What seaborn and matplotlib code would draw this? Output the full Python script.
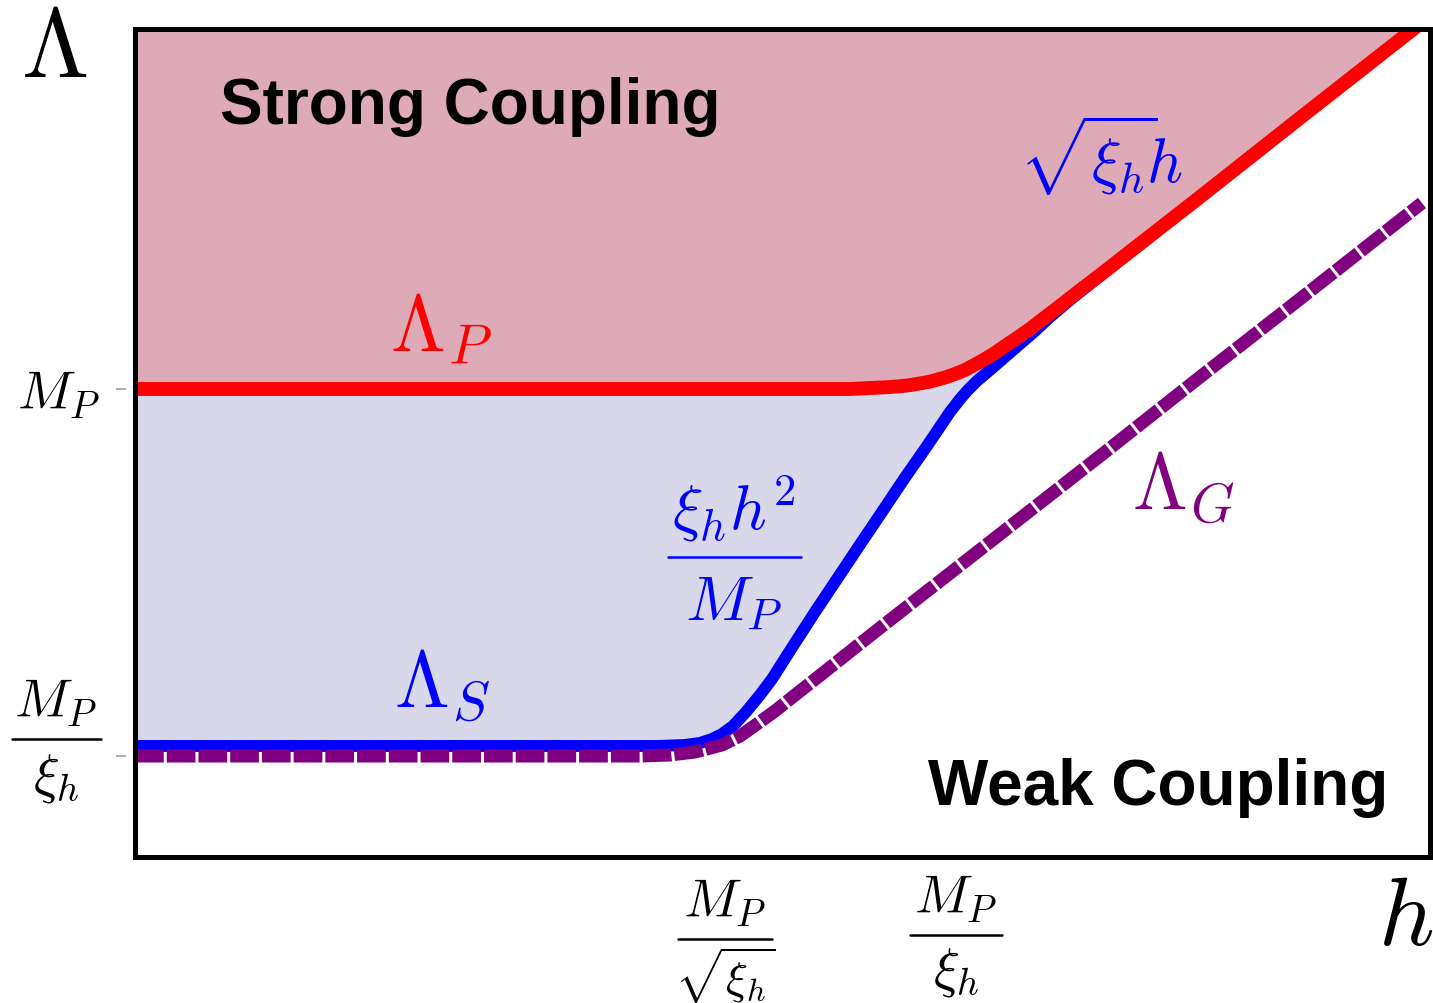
import numpy as np
import pandas as pd
import matplotlib
matplotlib.use("Agg")
import matplotlib.pyplot as plt
import seaborn as sns
from matplotlib.patches import Rectangle
from matplotlib.lines import Line2D

# Schematic cut-off scales; both axes run over 0..10 in arbitrary (log-like) units.
# Planck-suppressed cut-off Lambda_P
planck_h = [0.0, 5.521, 5.830, 5.907, 5.985, 6.062, 6.139, 6.255, 6.332, 6.409,
            6.486, 6.564, 6.641, 6.718, 6.795, 6.911, 7.027, 7.143, 7.297, 7.452,
            8.224, 8.996, 9.853, 10.077]
planck_cut = [5.652, 5.652, 5.676, 5.686, 5.699, 5.719, 5.742, 5.791, 5.833, 5.882,
              5.946, 6.014, 6.087, 6.171, 6.251, 6.377, 6.517, 6.655, 6.844, 7.029,
              7.971, 8.925, 9.976, 10.254]

# Scalar-sector cut-off Lambda_S
scalar_h = [0.0, 4.054, 4.247, 4.363, 4.456, 4.533, 4.618, 4.718, 4.826, 4.919,
            5.081, 5.251, 5.421, 5.591, 5.768, 5.938, 6.116, 6.293, 6.371, 6.432,
            6.502, 6.602, 6.718, 6.834, 6.950, 7.066, 7.220, 7.452, 8.224, 8.996,
            9.853, 10.077]
scalar_cut = [1.341, 1.341, 1.353, 1.377, 1.425, 1.486, 1.582, 1.751, 1.957, 2.150,
              2.548, 2.959, 3.357, 3.756, 4.167, 4.565, 4.964, 5.374, 5.531, 5.640,
              5.749, 5.882, 6.039, 6.196, 6.353, 6.522, 6.727, 7.017, 7.971, 8.925,
              9.976, 10.254]

# Gauge-sector cut-off Lambda_G
gauge_h = [0.0, 3.900, 4.131, 4.324, 4.533, 4.672, 4.803, 4.942, 5.058, 5.313,
           5.575, 5.830, 6.602, 7.452, 8.224, 8.996, 9.938]
gauge_cut = [1.220, 1.220, 1.232, 1.268, 1.353, 1.461, 1.606, 1.763, 1.908, 2.222,
             2.548, 2.862, 3.804, 4.843, 5.797, 6.739, 7.899]

y_tick_vals = [5.652, 1.220]
y_tick_labels = [r"$M_P$", ""]
x_tick_vals = [4.56, 6.34]

RED = "#ff0000"
BLUE = "#0000ff"
PURPLE = "#800080"
PINK = "#deaab8"
LAVENDER = "#d9d8ea"
W, H = 1433, 1004

sns.set_theme(style="white")
plt.rcParams["font.family"] = ["Liberation Sans", "DejaVu Sans"]
plt.rcParams["mathtext.fontset"] = "cm"

planck_df = pd.DataFrame({"h": planck_h, "cutoff": planck_cut})
scalar_df = pd.DataFrame({"h": scalar_h, "cutoff": scalar_cut})
gauge_df = pd.DataFrame({"h": gauge_h, "cutoff": gauge_cut})

fig = plt.figure(figsize=(W / 100, H / 100), dpi=100)
ax = fig.add_axes([135 / W, 1 - 858 / H, 1295 / W, 828 / H])


def fx(px):
    return px / W


def fy(py):
    return 1 - py / H


def stacked_fraction(xc, num, num_base, den, den_base, bar_y, bar_x0, bar_x1,
                     size, den_size=None, color="black"):
    """Numerator over a rule over a denominator, placed in figure pixels."""
    fig.text(fx(xc), fy(num_base), num, fontsize=size, color=color,
             ha="center", va="baseline", zorder=7)
    fig.add_artist(Line2D([fx(bar_x0), fx(bar_x1)], [fy(bar_y), fy(bar_y)],
                          color=color, lw=1.8, zorder=7))
    fig.text(fx(xc), fy(den_base), den, fontsize=den_size or size, color=color,
             ha="center", va="baseline", zorder=7)


# shaded regimes
ax.fill_between(planck_h, planck_cut, 11, color=PINK, lw=0, zorder=1)
ax.fill(np.r_[planck_h, scalar_h[::-1]], np.r_[planck_cut, scalar_cut[::-1]],
        color=LAVENDER, lw=0, zorder=1)

# cut-off curves
sns.lineplot(data=scalar_df, x="h", y="cutoff", ax=ax, color=BLUE, lw=8.6,
             sort=False, estimator=None, zorder=2)
sns.lineplot(data=gauge_df, x="h", y="cutoff", ax=ax, color=PURPLE, lw=9.4,
             sort=False, estimator=None, zorder=3)
ax.lines[-1].set_linestyle((0, (2.2, 0.23)))
ax.lines[-1].set_dash_capstyle("butt")
sns.lineplot(data=planck_df, x="h", y="cutoff", ax=ax, color=RED, lw=10,
             sort=False, estimator=None, zorder=4)

ax.set_xlim(0, 10)
ax.set_ylim(0, 10)
ax.set_xlabel("")
ax.set_ylabel("")

# frame drawn as a patch so the y ticks can sit slightly off the box
for s in ax.spines.values():
    s.set_visible(False)
ax.spines["left"].set_position(("outward", 6.5))
ax.add_patch(Rectangle((0, 0), 1, 1, transform=ax.transAxes, fill=False,
                       ec="black", lw=3.6, zorder=5, clip_on=False))

ax.set_yticks(y_tick_vals, y_tick_labels)
ax.set_xticks(x_tick_vals, ["", ""])
ax.tick_params(axis="y", left=True, direction="out", length=7.2, width=1.1,
               color="#999999", pad=11.5, labelsize=39, labelcolor="black")
ax.tick_params(axis="x", bottom=False, length=0)
ax.grid(False)

# fractional tick labels
stacked_fraction(56, r"$M_P$", 718, r"$\xi_h$", 792, 740, 12, 101, 39)
stacked_fraction(725, r"$M_P$", 918, r"$\sqrt{\xi_h}$", 994, 940, 678, 772, 39,
                 den_size=33)
stacked_fraction(956, r"$M_P$", 914, r"$\xi_h$", 986, 936, 910, 1002, 39)

# regime labels
ax.text(0.656, 8.865, "Strong Coupling", fontsize=46, fontweight="bold",
        ha="left", va="baseline", color="black", zorder=6)
ax.text(6.124, 0.640, "Weak Coupling", fontsize=46, fontweight="bold",
        ha="left", va="baseline", color="black", zorder=6)

# curve labels
ax.text(1.969, 6.123, r"$\Lambda_P$", fontsize=57, color=RED,
        ha="left", va="baseline", zorder=6)
ax.text(2.0, 1.824, r"$\Lambda_S$", fontsize=57, color=BLUE,
        ha="left", va="baseline", zorder=6)
ax.text(7.699, 4.215, r"$\Lambda_G$", fontsize=57, color=PURPLE,
        ha="left", va="baseline", zorder=6)
ax.text(6.826, 8.152, r"$\sqrt{\xi_h}\!h$", fontsize=45, color=BLUE,
        ha="left", va="baseline", zorder=6)
stacked_fraction(734, r"$\xi_h h^2$", 530, r"$M_P$", 620, 558, 668, 801, 46,
                 color=BLUE)

# axis symbols
fig.text(fx(21), fy(77), r"$\Lambda$", fontsize=70,
         ha="left", va="baseline", color="black")
fig.text(fx(1378), fy(945), r"$h$", fontsize=70,
         ha="left", va="baseline", color="black")

fig.savefig("out.png", dpi=100)
